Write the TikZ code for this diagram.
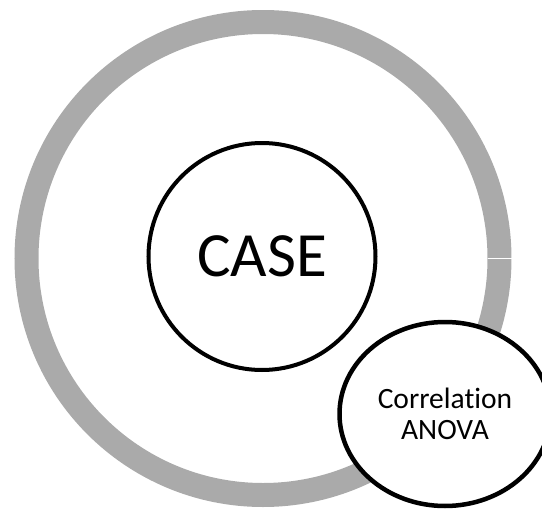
\documentclass[tikz,border=0pt]{standalone}
\usepackage{fontspec}
\setmainfont{Carlito}[Ligatures=NoCommon]
\usetikzlibrary{shapes.geometric,calc}
\definecolor{ringgray}{RGB}{170,170,170}
\tikzset{
  outerring/.style={circle, draw=ringgray, line width=24pt, inner sep=0pt, minimum size=473pt},
  casecircle/.style={circle, draw=black, line width=4pt, fill=white, inner sep=0pt, minimum size=227pt,
    font=\fontsize{63}{70}\selectfont},
  methodbubble/.style={ellipse, draw=black, line width=4.5pt, fill=white, inner sep=0pt,
    minimum width=211pt, minimum height=184pt, align=center,
    font=\fontsize{29.5}{30.5}\selectfont},
}
\begin{document}
\begin{tikzpicture}[x=1pt, y=-1pt]
  \useasboundingbox (0,0) rectangle (542,509);
  \clip (0,0) rectangle (542,509);
  % grey donut around the case
  \node[outerring] (ring) at (263,258.5) {};
  % thin white seam where the donut starts and ends
  \coordinate (seamin) at ($(ring.center)+(224.5,0)$);
  \coordinate (seamout) at ($(ring.center)+(248.5,0)$);
  \draw[white, line width=1.6pt] (seamin) -- (seamout);
  % central case
  \node[casecircle] (case) at (262,256.5) {CASE};
  % analysis methods bubble
  \node[methodbubble] (methods) at (445,414) {Correlation\\ANOVA};
\end{tikzpicture}
\end{document}
